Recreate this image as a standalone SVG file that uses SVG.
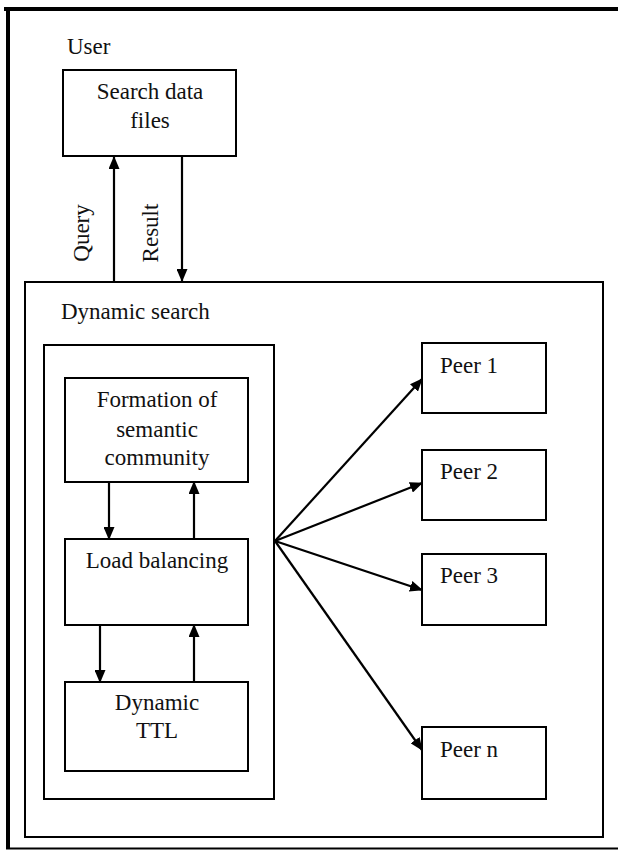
<svg xmlns="http://www.w3.org/2000/svg" width="618" height="850" viewBox="0 0 618 850">
<style>
.box{fill:none;stroke:#000;stroke-width:2}
.t{font-size:23px;fill:#111}
.m{text-anchor:middle}
.c{stroke:#000;stroke-width:2.2;fill:none;marker-end:url(#ah)}
</style>
<defs>
<marker id="ah" markerUnits="userSpaceOnUse" markerWidth="13" markerHeight="11" refX="12" refY="5.5" orient="auto">
<path d="M0,0 L13,5.5 L0,11 z" fill="#000"/>
</marker>
</defs>
<g font-family="Liberation Serif, DejaVu Serif, serif">
<g id="frame">
<line x1="4" y1="9" x2="618" y2="9" stroke="#000" stroke-width="4"/>
<line x1="8" y1="7" x2="8" y2="849" stroke="#000" stroke-width="4"/>
<line x1="6" y1="848.5" x2="618" y2="848.5" stroke="#000" stroke-width="2"/>
</g>
<g id="user">
<text class="t" x="67" y="54">User</text>
</g>
<g id="search-data-files">
<rect class="box" x="63" y="70" width="173" height="86"/>
<text class="t m" x="150" y="99">Search data</text>
<text class="t m" x="150" y="128">files</text>
</g>
<g id="dynamic-search">
<rect class="box" x="25" y="282" width="578" height="555"/>
<text class="t" x="61" y="319">Dynamic search</text>
</g>
<g id="inner-group">
<rect class="box" x="44" y="345" width="230" height="454"/>
</g>
<g id="formation">
<rect class="box" x="65" y="378" width="183" height="104"/>
<text class="t m" x="157" y="407">Formation of</text>
<text class="t m" x="157" y="437">semantic</text>
<text class="t m" x="157" y="465">community</text>
</g>
<g id="load-balancing">
<rect class="box" x="65" y="539" width="183" height="86"/>
<text class="t m" x="157" y="568">Load balancing</text>
</g>
<g id="dynamic-ttl">
<rect class="box" x="65" y="682" width="183" height="89"/>
<text class="t m" x="157" y="710">Dynamic</text>
<text class="t m" x="157" y="738">TTL</text>
</g>
<g id="peer1">
<rect class="box" x="422" y="343" width="124" height="70"/>
<text class="t" x="440" y="373">Peer 1</text>
</g>
<g id="peer2">
<rect class="box" x="422" y="450" width="124" height="70"/>
<text class="t" x="440" y="479">Peer 2</text>
</g>
<g id="peer3">
<rect class="box" x="422" y="554" width="124" height="71"/>
<text class="t" x="440" y="583">Peer 3</text>
</g>
<g id="peern">
<rect class="box" x="422" y="727" width="124" height="72"/>
<text class="t" x="440" y="757">Peer n</text>
</g>
<g id="connectors">
<line class="c" x1="114" y1="281" x2="114" y2="157"/>
<line class="c" x1="182" y1="157" x2="182" y2="281"/>
<text class="t m" transform="translate(89,233) rotate(-90)">Query</text>
<text class="t m" transform="translate(158,233) rotate(-90)">Result</text>
<line class="c" x1="109" y1="482" x2="109" y2="539"/>
<line class="c" x1="194" y1="539" x2="194" y2="482"/>
<line class="c" x1="100" y1="625" x2="100" y2="682"/>
<line class="c" x1="194" y1="682" x2="194" y2="625"/>
<line class="c" x1="275" y1="541" x2="422" y2="379"/>
<line class="c" x1="275" y1="541" x2="422" y2="483"/>
<line class="c" x1="275" y1="541" x2="422" y2="590"/>
<line class="c" x1="275" y1="541" x2="422" y2="750"/>
</g>
</g>
</svg>
